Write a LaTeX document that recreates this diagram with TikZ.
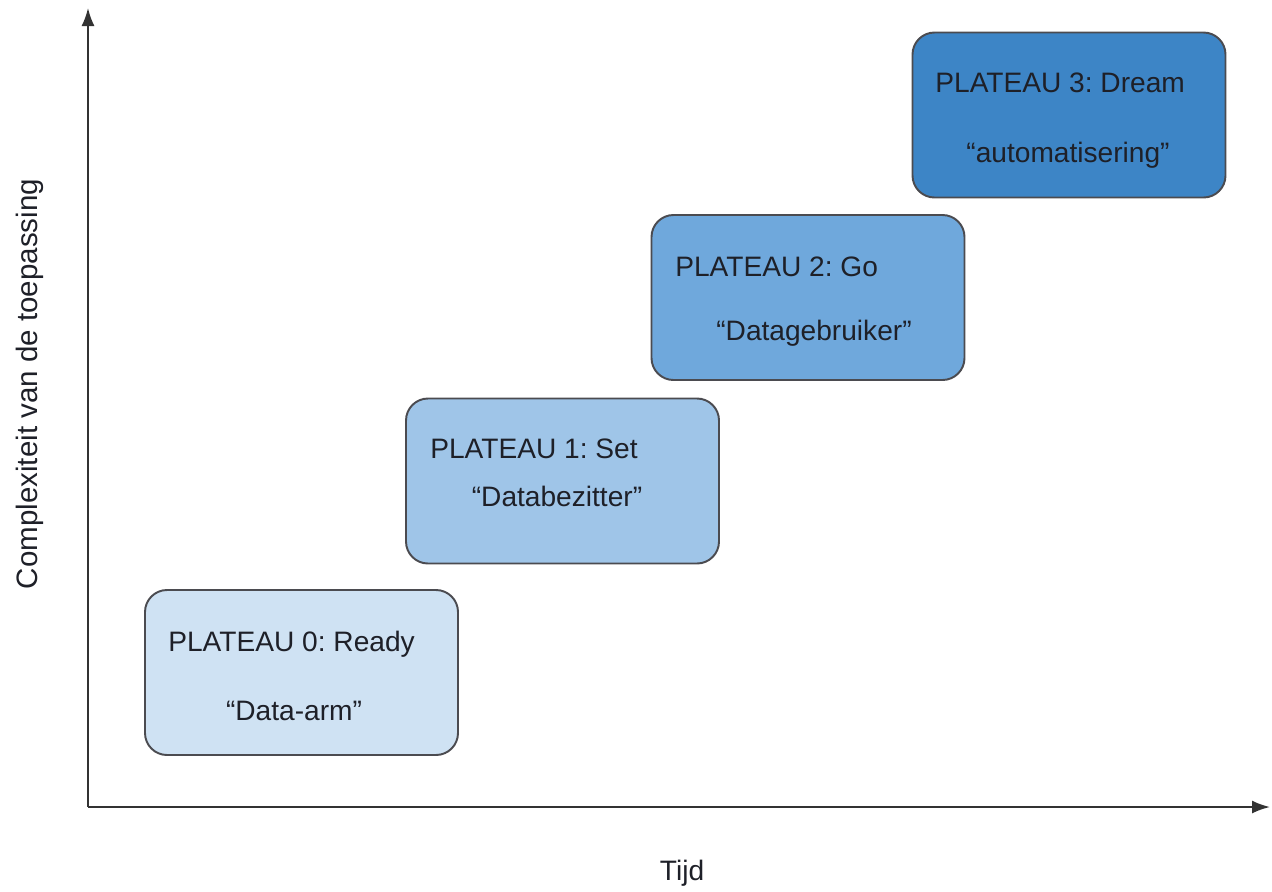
\documentclass[tikz,border=0pt]{standalone}
\usepackage{fontspec}
\setmainfont{Liberation Sans}
\usetikzlibrary{arrows.meta}
\frenchspacing

\begin{document}
\begin{tikzpicture}[x=.2mm,y=-.2mm]

\useasboundingbox (0,0) rectangle (1272,891);

\definecolor{lvla}{RGB}{207,226,243};
\definecolor{lvlb}{RGB}{159,197,232};
\definecolor{lvlc}{RGB}{111,168,220};
\definecolor{lvld}{RGB}{61,133,198};
\definecolor{edge}{RGB}{75,75,80};
\definecolor{ink}{RGB}{30,32,40};

\tikzset{
plateau/.style={draw=edge,line width=1.1pt,rounded corners=4.4mm,minimum width=62.6mm,minimum height=33mm,inner sep=0pt},
txt/.style={text=ink,font=\fontsize{16}{19}\selectfont,inner sep=0pt},
axis/.style={draw=black!80,line width=1.1pt,-{Latex[length=3.6mm,width=2.6mm]}}
}

%% axes
\coordinate (origin) at (88,807);
\coordinate (ytop) at (88,8);
\coordinate (xend) at (1270,807);
\draw[axis] (origin)--(ytop);
\draw[axis] (origin)--(xend);

\node[txt,anchor=base] (xlabel) at (682,880) {Tijd};
\node[txt,font=\fontsize{16.8}{20}\selectfont,rotate=90] (ylabel) at (30,384) {Complexiteit van de toepassing};

%% plateaus
\node[plateau,fill=lvla] (box0) at (301.5,672.5) {};
\node[plateau,fill=lvlb] (box1) at (562.5,481) {};
\node[plateau,fill=lvlc] (box2) at (808,297.5) {};
\node[plateau,fill=lvld] (box3) at (1069,115) {};

\node[txt,anchor=base west] (title0) at (168,651) {PLATEAU 0: Ready};
\node[txt,anchor=base] (sub0) at (294,720) {“Data-arm”};

\node[txt,anchor=base west] (title1) at (430,458) {PLATEAU 1: Set};
\node[txt,anchor=base] (sub1) at (557,506) {“Databezitter”};

\node[txt,anchor=base west] (title2) at (675,276) {PLATEAU 2: Go};
\node[txt,anchor=base] (sub2) at (814,340) {“Datagebruiker”};

\node[txt,anchor=base west] (title3) at (935,92) {PLATEAU 3: Dream};
\node[txt,anchor=base] (sub3) at (1068,162) {“automatisering”};

\end{tikzpicture}
\end{document}
